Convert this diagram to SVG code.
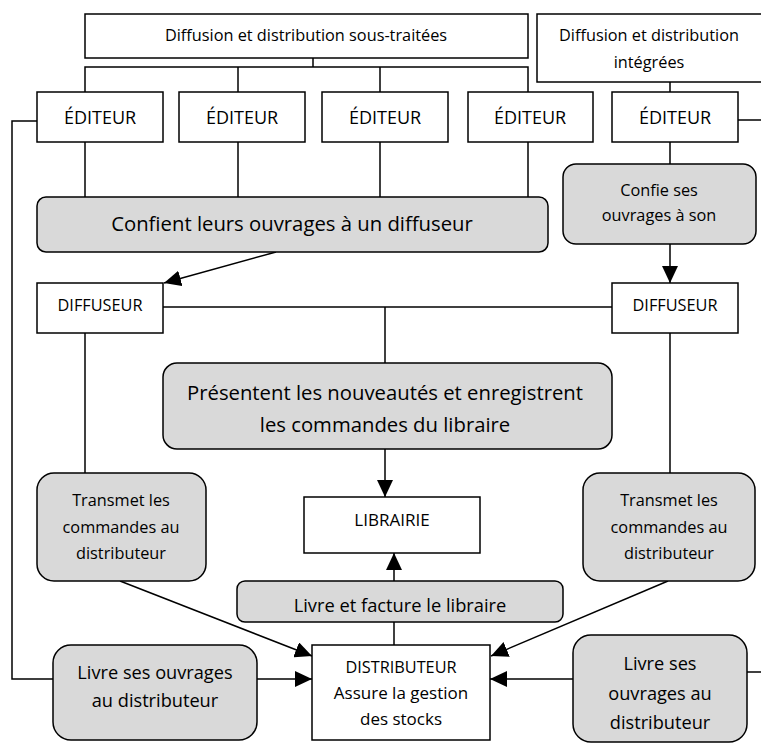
<svg xmlns="http://www.w3.org/2000/svg" width="761" height="745" viewBox="0 0 761 745">
<style>
.b{fill:#fff;stroke:#000;stroke-width:1.5}
.g{fill:#d9d9d9;stroke:#000;stroke-width:1.5}
.c{fill:none;stroke:#000;stroke-width:1.5}
text{font-family:"Open Sans","Liberation Sans",sans-serif;fill:#000;text-anchor:middle}
.s14{font-size:16.3px}
.s16{font-size:18px}
.s20{font-size:20.3px}
.s15{font-size:16.3px}
.s18{font-size:18.2px}
.s17{font-size:17px}
.sl{font-size:18.3px}
</style>
<defs>
<marker id="a" markerWidth="18" markerHeight="16" refX="17" refY="8" orient="auto" markerUnits="userSpaceOnUse">
<path d="M0,0 L17,8 L0,16 Z" fill="#000"/>
</marker>
</defs>
<g id="connectors">
<polyline class="c" points="313,58 313,67"/>
<polyline class="c" points="85,92 85,67 528,67 528,92"/>
<line class="c" x1="238" y1="67" x2="238" y2="92"/>
<line class="c" x1="380" y1="67" x2="380" y2="92"/>
<line class="c" x1="670" y1="82" x2="670" y2="92"/>
<line class="c" x1="85" y1="142" x2="85" y2="197"/>
<line class="c" x1="238" y1="142" x2="238" y2="197"/>
<line class="c" x1="380" y1="142" x2="380" y2="197"/>
<line class="c" x1="528" y1="142" x2="528" y2="197"/>
<line class="c" x1="670" y1="142" x2="670" y2="164"/>
<line class="c" x1="738" y1="120" x2="761" y2="120"/>
<line class="c" x1="276" y1="252" x2="164" y2="283" marker-end="url(#a)"/>
<line class="c" x1="670" y1="244" x2="670" y2="283" marker-end="url(#a)"/>
<line class="c" x1="163" y1="307" x2="612" y2="307"/>
<line class="c" x1="385" y1="307" x2="385" y2="363"/>
<line class="c" x1="385" y1="449" x2="385" y2="497" marker-end="url(#a)"/>
<line class="c" x1="85" y1="333" x2="85" y2="473"/>
<line class="c" x1="670" y1="333" x2="670" y2="473"/>
<line class="c" x1="394" y1="581" x2="394" y2="553" marker-end="url(#a)"/>
<line class="c" x1="394" y1="645" x2="394" y2="622"/>
<line class="c" x1="120" y1="581" x2="312" y2="656" marker-end="url(#a)"/>
<line class="c" x1="668" y1="581" x2="491" y2="656" marker-end="url(#a)"/>
<polyline class="c" points="37,121 12,121 12,679 53,679"/>
<line class="c" x1="257" y1="679" x2="312" y2="679" marker-end="url(#a)"/>
<line class="c" x1="573" y1="679" x2="490" y2="679" marker-end="url(#a)"/>
<line class="c" x1="747" y1="672" x2="761" y2="672"/>
</g>
<g id="top1"><rect class="b" x="85" y="14" width="443" height="44"/><text class="s14" x="306" y="41">Diffusion et distribution sous-traitées</text></g>
<g id="top2"><rect class="b" x="537" y="14" width="230" height="68"/><text class="s14" x="649" y="41">Diffusion et distribution</text><text class="s14" x="649" y="68">intégrées</text></g>
<g id="ed1"><rect class="b" x="37" y="92" width="126" height="50"/><text class="s16" x="100" y="124">ÉDITEUR</text></g>
<g id="ed2"><rect class="b" x="179" y="92" width="126" height="50"/><text class="s16" x="242" y="124">ÉDITEUR</text></g>
<g id="ed3"><rect class="b" x="322" y="92" width="126" height="50"/><text class="s16" x="385" y="124">ÉDITEUR</text></g>
<g id="ed4"><rect class="b" x="468" y="92" width="125" height="50"/><text class="s16" x="530" y="124">ÉDITEUR</text></g>
<g id="ed5"><rect class="b" x="612" y="92" width="126" height="50"/><text class="s16" x="675" y="124">ÉDITEUR</text></g>
<g id="confient"><rect class="g" x="37" y="197" width="511" height="55" rx="9"/><text class="s20" x="292" y="231">Confient leurs ouvrages à un diffuseur</text></g>
<g id="confie"><rect class="g" x="563" y="164" width="193" height="80" rx="13"/><text class="s14" x="659" y="196">Confie ses</text><text class="s14" x="659" y="221">ouvrages à son</text></g>
<g id="diff1"><rect class="b" x="37" y="283" width="126" height="50"/><text class="s14" x="100" y="311">DIFFUSEUR</text></g>
<g id="diff2"><rect class="b" x="612" y="283" width="126" height="50"/><text class="s14" x="675" y="311">DIFFUSEUR</text></g>
<g id="presentent"><rect class="g" x="163" y="363" width="449" height="86" rx="14"/><text class="s20" x="385" y="400">Présentent les nouveautés et enregistrent</text><text class="s20" x="385" y="432">les commandes du libraire</text></g>
<g id="librairie"><rect class="b" x="304" y="497" width="176" height="56"/><text class="s17" x="392" y="526">LIBRAIRIE</text></g>
<g id="transmet1"><rect class="g" x="37" y="473" width="169" height="108" rx="17"/><text class="s15" x="121" y="506">Transmet les</text><text class="s15" x="121" y="533">commandes au</text><text class="s15" x="121" y="559">distributeur</text></g>
<g id="transmet2"><rect class="g" x="583" y="473" width="172" height="108" rx="17"/><text class="s15" x="669" y="506">Transmet les</text><text class="s15" x="669" y="533">commandes au</text><text class="s15" x="669" y="559">distributeur</text></g>
<g id="livrefacture"><rect class="g" x="237" y="581" width="326" height="41" rx="8"/><text class="sl" x="400" y="612">Livre et facture le libraire</text></g>
<g id="distributeur"><rect class="b" x="312" y="645" width="178" height="95"/><text class="s14" x="401" y="673">DISTRIBUTEUR</text><text class="s17" x="401" y="699">Assure la gestion</text><text class="s17" x="401" y="725">des stocks</text></g>
<g id="livre1"><rect class="g" x="53" y="645" width="204" height="95" rx="18"/><text class="s18" x="155" y="679">Livre ses ouvrages</text><text class="s18" x="155" y="707">au distributeur</text></g>
<g id="livre2"><rect class="g" x="573" y="635" width="174" height="107" rx="18"/><text class="s18" x="660" y="670">Livre ses</text><text class="s18" x="660" y="700">ouvrages au</text><text class="s18" x="660" y="729">distributeur</text></g>
</svg>
